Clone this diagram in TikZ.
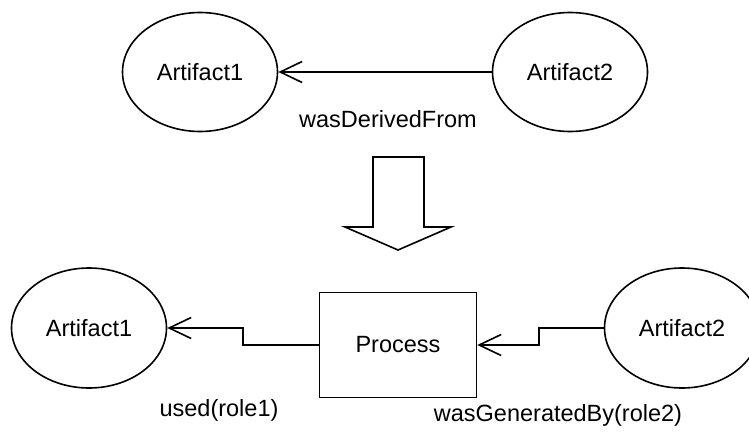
\documentclass[tikz,border=0pt]{standalone}
\usepackage{fontspec}
\setmainfont{Liberation Sans}
\usetikzlibrary{shapes.geometric,arrows.meta}

\begin{document}
\begin{tikzpicture}[x=1pt, y=-1pt, line width=1.6pt,
  every node/.style={font=\fontsize{23.5}{28}\selectfont},
  artifact/.style={draw, ellipse, inner sep=0pt, minimum width=155pt, minimum height=119pt},
  process/.style={draw, rectangle, inner sep=0pt, minimum width=157pt, minimum height=105pt},
  link/.style={-{Straight Barb[length=22pt, width=21pt]}}]

\useasboundingbox (0,0) rectangle (749,436);

% the derivation, as one edge
\node[artifact] (topA) at (200,72) {Artifact1};
\node[artifact] (topB) at (570,72) {Artifact2};
\draw[link] (topB) -- (topA);
\node (derived) at (388,119) {wasDerivedFrom};

% the big hollow arrow: "is read as"
\draw (373,157) -- (424,157) -- (424,227) -- (451,227) -- (398,250)
  -- (345,227) -- (373,227) -- cycle;

% the same thing, with a process in the middle
\node[artifact, minimum height=120pt] (lowA) at (89,328) {Artifact1};
\node[process] (proc) at (398,345) {Process};
\node[artifact, minimum height=120pt] (lowB) at (682,328) {Artifact2};
\draw[link] (proc.west) -- ++(-76,0) |- (lowA.east);
\draw[link] (lowB.west) -- ++(-65,0) |- (proc.east);
\node (used) at (219,410) {used(role1)};
\node (generated) at (558,415) {wasGeneratedBy(role2)};
\end{tikzpicture}
\end{document}
